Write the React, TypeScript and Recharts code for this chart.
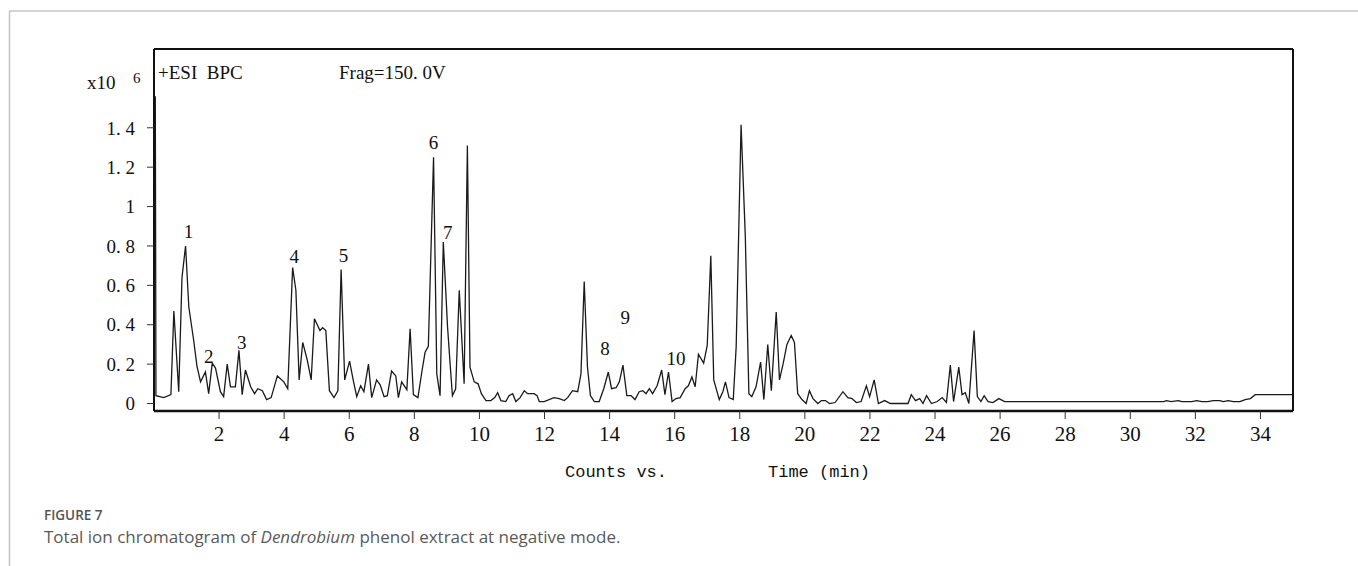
import React from "react";
import { LineChart, Line, XAxis, YAxis, ReferenceLine, ReferenceDot } from "recharts";

// retention time (min) and base peak intensity (x10^6 counts)
const times = [
  0.04, 0.06, 0.3, 0.52, 0.61, 0.76, 0.86, 0.97, 1.07, 1.22, 1.32, 1.43, 1.58, 1.68, 1.79, 1.89,
  2.04, 2.14, 2.25, 2.35, 2.5, 2.61, 2.71, 2.81, 2.97, 3.09, 3.19, 3.33, 3.46, 3.6, 3.79, 3.99,
  4.11, 4.26, 4.36, 4.46, 4.57, 4.71, 4.83, 4.93, 5.1, 5.18, 5.28, 5.39, 5.53, 5.65, 5.75, 5.86,
  6.01, 6.12, 6.23, 6.35, 6.45, 6.59, 6.69, 6.84, 6.95, 7.07, 7.17, 7.3, 7.43, 7.51, 7.61, 7.77,
  7.87, 7.97, 8.11, 8.23, 8.33, 8.43, 8.59, 8.69, 8.79, 8.89, 9.02, 9.1, 9.17, 9.27, 9.38, 9.45,
  9.53, 9.63, 9.71, 9.84, 9.96, 10.06, 10.2, 10.35, 10.47, 10.56, 10.66, 10.81, 10.91, 11.02,
  11.12, 11.25, 11.38, 11.48, 11.68, 11.77, 11.84, 11.99, 12.29, 12.45, 12.61, 12.71, 12.86,
  13.02, 13.12, 13.22, 13.32, 13.41, 13.53, 13.68, 13.82, 13.96, 14.06, 14.2, 14.3, 14.41,
  14.53, 14.66, 14.78, 14.91, 15.02, 15.12, 15.22, 15.32, 15.46, 15.6, 15.7, 15.81, 15.92,
  16.04, 16.17, 16.32, 16.42, 16.53, 16.63, 16.73, 16.89, 17.0, 17.11, 17.2, 17.37, 17.48,
  17.56, 17.67, 17.8, 17.89, 18.04, 18.17, 18.28, 18.37, 18.5, 18.64, 18.74, 18.86, 18.97,
  19.12, 19.22, 19.33, 19.45, 19.58, 19.68, 19.78, 19.91, 20.04, 20.14, 20.25, 20.4, 20.51,
  20.63, 20.76, 20.93, 21.17, 21.32, 21.45, 21.58, 21.73, 21.89, 21.99, 22.13, 22.26, 22.45,
  22.63, 23.17, 23.27, 23.4, 23.53, 23.63, 23.74, 23.89, 24.07, 24.22, 24.35, 24.47, 24.57,
  24.73, 24.83, 24.93, 25.04, 25.2, 25.3, 25.41, 25.51, 25.63, 25.78, 25.96, 26.14, 31.02,
  31.12, 31.25, 31.48, 31.58, 31.89, 32.04, 32.2, 32.38, 32.55, 32.75, 32.86, 33.01, 33.17,
  33.37, 33.53, 33.69, 33.84, 35.0,
];
const intensity = [
  1.56, 0.04, 0.03, 0.045, 0.47, 0.06, 0.64, 0.8, 0.49, 0.32, 0.19, 0.11, 0.16, 0.05, 0.205, 0.18,
  0.06, 0.035, 0.2, 0.085, 0.085, 0.27, 0.045, 0.17, 0.085, 0.05, 0.075, 0.065, 0.02, 0.03, 0.14, 0.11,
  0.075, 0.69, 0.575, 0.12, 0.31, 0.22, 0.12, 0.43, 0.37, 0.385, 0.37, 0.065, 0.03, 0.065, 0.68, 0.12,
  0.215, 0.12, 0.035, 0.09, 0.06, 0.2, 0.03, 0.12, 0.095, 0.035, 0.04, 0.165, 0.14, 0.03, 0.11, 0.07,
  0.38, 0.045, 0.03, 0.16, 0.26, 0.29, 1.25, 0.15, 0.04, 0.82, 0.39, 0.2, 0.04, 0.075, 0.575, 0.355,
  0.1, 1.31, 0.185, 0.11, 0.1, 0.05, 0.015, 0.015, 0.03, 0.055, 0.015, 0.01, 0.04, 0.05,
  0.01, 0.03, 0.065, 0.05, 0.05, 0.04, 0.01, 0.01, 0.03, 0.025, 0.015, 0.03, 0.065,
  0.06, 0.15, 0.62, 0.185, 0.04, 0.01, 0.01, 0.075, 0.16, 0.075, 0.08, 0.11, 0.195,
  0.04, 0.04, 0.02, 0.06, 0.065, 0.05, 0.075, 0.05, 0.09, 0.17, 0.045, 0.16, 0.01,
  0.025, 0.03, 0.075, 0.09, 0.135, 0.085, 0.25, 0.205, 0.295, 0.75, 0.12, 0.02, 0.06,
  0.11, 0.03, 0.02, 0.29, 1.415, 0.85, 0.05, 0.035, 0.085, 0.21, 0.02, 0.3, 0.065,
  0.465, 0.12, 0.2, 0.3, 0.345, 0.31, 0.05, 0.02, 0.0, 0.065, 0.025, 0.0, 0.015,
  0.015, 0.0, 0.005, 0.06, 0.03, 0.025, 0.005, 0.01, 0.09, 0.035, 0.12, 0.0, 0.015,
  0.0, 0.0, 0.045, 0.015, 0.025, 0.0, 0.04, 0.0, 0.01, 0.03, 0.005, 0.195, 0.01,
  0.185, 0.045, 0.055, 0.0, 0.37, 0.035, 0.01, 0.04, 0.01, 0.005, 0.025, 0.01, 0.01,
  0.015, 0.01, 0.015, 0.01, 0.01, 0.015, 0.01, 0.01, 0.015, 0.015, 0.01, 0.015, 0.01,
  0.01, 0.02, 0.025, 0.045, 0.045,
];

const xTicks = [2, 4, 6, 8, 10, 12, 14, 16, 18, 20, 22, 24, 26, 28, 30, 32, 34];
const yTicks = [0, 0.2, 0.4, 0.6, 0.8, 1, 1.2, 1.4];

// numbered peak labels: where the number sits (time, intensity)
const peakIds = ["1", "2", "3", "4", "5", "6", "7", "8", "9", "10"];
const peakTimes = [1.06, 1.68, 2.7, 4.31, 5.82, 8.59, 9.03, 13.86, 14.48, 16.04];
const peakLevels = [0.877, 0.238, 0.309, 0.75, 0.755, 1.329, 0.872, 0.279, 0.436, 0.228];

const chartData = times.map((t, i) => ({ t, v: intensity[i] }));

const serif = "'Liberation Serif', 'DejaVu Serif', serif";
const mono = "'Liberation Mono', 'DejaVu Sans Mono', monospace";
const sans = "'Open Sans', 'Noto Sans', sans-serif";

const fmtY = (v: number) => (v === 0 ? "0" : v === 1 ? "1" : v.toFixed(1).replace(".", ". "));

export default function App() {
  return (
    <div style={{ position: "relative", width: 1358, height: 566, background: "#fff" }}>
      <style>{"body{margin:0}"}</style>
      <LineChart
        width={1358}
        height={566}
        data={chartData}
        margin={{ top: 49, right: 65, bottom: 115, left: 74 }}
      >
        <XAxis
          dataKey="t"
          type="number"
          domain={[0, 35]}
          ticks={xTicks}
          allowDataOverflow
          height={40}
          tickSize={8}
          tickMargin={7}
          axisLine={{ stroke: "#111", strokeWidth: 2.5 }}
          tickLine={{ stroke: "#333", strokeWidth: 1 }}
          tick={{ fill: "#111", fontSize: 21, fontFamily: serif }}
        />
        <YAxis
          type="number"
          domain={[-0.038, 1.8]}
          ticks={yTicks}
          allowDataOverflow
          width={80}
          tickSize={7}
          tickMargin={12}
          tickFormatter={fmtY}
          axisLine={{ stroke: "#111", strokeWidth: 2 }}
          tickLine={{ stroke: "#333", strokeWidth: 1 }}
          tick={{ fill: "#111", fontSize: 19, fontFamily: serif }}
        />
        <ReferenceLine y={1.8} stroke="#111" strokeWidth={2} />
        <ReferenceLine x={35} stroke="#111" strokeWidth={2} />
        <Line
          type="linear"
          dataKey="v"
          stroke="#1a1a1a"
          strokeWidth={1.3}
          dot={false}
          isAnimationActive={false}
        />
        {peakIds.map((id, i) => (
          <ReferenceDot
            key={id}
            x={peakTimes[i]}
            y={peakLevels[i]}
            r={0}
            fill="none"
            stroke="none"
            label={{ value: id, position: "center", fill: "#111", fontSize: 19, fontFamily: serif }}
          />
        ))}
      </LineChart>
      <svg
        width={1358}
        height={566}
        style={{ position: "absolute", left: 0, top: 0, pointerEvents: "none" }}
      >
        <line x1={9.5} y1={11} x2={1358} y2={11} stroke="#c4c4c4" strokeWidth={1.5} />
        <line x1={9.5} y1={11} x2={9.5} y2={566} stroke="#c4c4c4" strokeWidth={1.5} />
        <text x={87} y={89} fontSize={19} fontFamily={serif} fill="#111">x10</text>
        <text x={133} y={83} fontSize={15} fontFamily={serif} fill="#111">6</text>
        <text x={158} y={78.5} fontSize={19} fontFamily={serif} fill="#111" style={{ whiteSpace: "pre" }}>
          {"+ESI  BPC"}
        </text>
        <text x={339} y={78.5} fontSize={19} fontFamily={serif} fill="#111">Frag=150. 0V</text>
        <text x={565} y={477} fontSize={17} fontFamily={mono} fill="#111">Counts vs.</text>
        <text x={768} y={477} fontSize={17} fontFamily={mono} fill="#111">Time (min)</text>
        <text x={44} y={520} fontSize={13.5} fontWeight={600} fontFamily={sans} fill="#555">FIGURE 7</text>
        <text x={44} y={543} fontSize={17} fontFamily={sans} fill="#5a5a5a">
          Total ion chromatogram of <tspan fontStyle="italic">Dendrobium</tspan> phenol extract at negative mode.
        </text>
      </svg>
    </div>
  );
}
